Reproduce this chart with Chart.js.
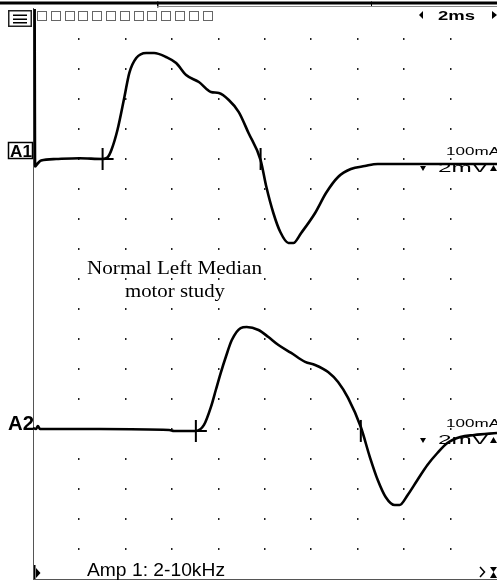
<!DOCTYPE html>
<html>
<head>
<meta charset="utf-8">
<style>
html, body { margin: 0; padding: 0; background: #fff; overflow: hidden; }
canvas { display: block; }
</style>
<script src="https://cdn.jsdelivr.net/npm/chart.js@4.4.0/dist/chart.umd.min.js"></script>
</head>
<body>
<canvas id="scope" width="497" height="583" style="width:497px;height:583px"></canvas>
<script>
// time in ms, amplitude in mV relative to each trace's baseline (2 ms/div, 2 mV/div)
const a1Time = [0.07, 0.09, 0.2, 0.35, 1.0, 2.0, 3.0, 3.21, 3.38, 3.64, 3.94, 4.15, 4.45, 4.88, 5.22,
    5.74, 6.17, 6.60, 7.15, 7.67, 8.01, 8.44, 8.87, 9.29, 9.81, 10.06, 10.36, 10.66, 11.01, 11.22, 11.56,
    12.16, 12.63, 13.15, 13.70, 14.30, 14.86, 17.43, 20];
const a1Mv = [10.6, -0.5, -0.3, -0.1, 0.0, 0.05, 0.0, 0.1, 0.6, 1.93, 4.13, 5.73, 6.73, 7.07, 7.07,
    6.8, 6.4, 5.6, 5.13, 4.47, 4.4, 3.93, 3.13, 1.73, -0.07, -1.87, -3.6, -4.87, -5.6, -5.6, -4.93,
    -3.6, -2.27, -1.2, -0.67, -0.47, -0.33, -0.33, -0.33];

const a2Time = [0, 0.13, 0.21, 0.3, 2.87, 5.87, 6.08, 7.02, 7.37, 7.67, 7.88, 8.09, 8.31, 8.57, 8.95, 9.21,
    9.72, 10.15, 10.58, 11.13, 11.73, 12.16, 12.72, 13.15, 13.58, 14.13, 14.52, 14.86, 15.20, 15.59, 15.80, 16.15,
    16.57, 17.0, 17.43, 17.86, 18.42, 19.02, 20];
const a2Mv = [0.07, 0, 0.2, 0, 0, -0.07, -0.13, -0.13, 0.27, 1.47, 2.6, 3.73, 4.8, 5.93, 6.73, 6.8,
    6.6, 6.13, 5.6, 5.07, 4.47, 4.27, 3.8, 3.13, 2.07, 0.13, -1.87, -3.4, -4.53, -5.07, -5.07, -4.4,
    -3.4, -2.4, -1.6, -0.93, -0.53, -0.4, -0.27];

// onset / peak cursors
const a1Markers = [3.0, 9.81];
const a2Markers = [7.02, 14.13];

const traceNames = ['A1', 'A2'];
const title = ['Normal Left Median', 'motor study'];
const sweepLabel = '2ms';
const gainLabel = '2mV';
const stimLabel = '100mA';
const filterLabel = 'Amp 1: 2-10kHz';

// screen layout: 19 divisions tall, A1 baseline at div 5, A2 at div 14
const A1_BASE = -10;
const A2_BASE = -28;
const Y_MIN = -38;

const toPoints = (ts, vs, base) => ts.map((t, i) => ({ x: t, y: base + vs[i] }));
const markerPoints = (ts, base) => ts.map(t => ({ x: t, y: base }));

const fitText = (ctx, text, x, y, font, width) => {
    ctx.font = font;
    const w = ctx.measureText(text).width;
    ctx.save();
    ctx.translate(x, y);
    ctx.scale(width / w, 1);
    ctx.fillText(text, 0, 0);
    ctx.restore();
};

const tri = (ctx, pts) => {
    ctx.beginPath();
    ctx.moveTo(pts[0], pts[1]);
    ctx.lineTo(pts[2], pts[3]);
    ctx.lineTo(pts[4], pts[5]);
    ctx.closePath();
    ctx.fill();
};

const scopeDecor = {
    id: 'scopeDecor',
    beforeDatasetsDraw(chart) {
        const ctx = chart.ctx;
        const xs = chart.scales.x, ys = chart.scales.y;
        ctx.save();
        // dot grid
        ctx.fillStyle = '#222';
        for (let t = 2; t < 20; t += 2) {
            for (let v = -2; v > Y_MIN; v -= 2) {
                const px = Math.round(xs.getPixelForValue(t));
                const py = Math.round(ys.getPixelForValue(v));
                ctx.fillRect(px - 1, py - 1, 1.5, 2);
            }
        }
        // frame
        const a = chart.chartArea;
        ctx.fillStyle = '#555';
        ctx.fillRect(a.left, 8, 1, a.bottom - 8 + 1);
        ctx.fillRect(a.left, a.bottom, a.right - a.left, 1);

        // title
        ctx.fillStyle = '#000';
        ctx.textAlign = 'left';
        ctx.textBaseline = 'alphabetic';
        fitText(ctx, title[0], 87, 274, '19px "Liberation Serif", "Times New Roman", serif', 175);
        fitText(ctx, title[1], 125, 297, '19px "Liberation Serif", "Times New Roman", serif', 100);

        // per-trace labels on the right
        [[A1_BASE, 0], [A2_BASE, 1]].forEach(([base, k]) => {
            const by = ys.getPixelForValue(base);
            const dy = k === 0 ? 0 : 2;
            fitText(ctx, stimLabel, 446, by - 2 + dy - 2, '11px "Liberation Sans", Arial, sans-serif', 54);
            fitText(ctx, gainLabel, 438, by + 13 + dy, '12px "Liberation Sans", Arial, sans-serif', 50);
            tri(ctx, [420, by + 7 + dy, 426, by + 7 + dy, 423, by + 12 + dy]);
            tri(ctx, [490, by + 12 + dy, 497, by + 12 + dy, 493.5, by + 6 + dy]);
        });

        // trace names
        const y1 = ys.getPixelForValue(A1_BASE);
        ctx.fillStyle = '#fff';
        ctx.fillRect(8, y1 - 17, 25, 17);
        ctx.strokeStyle = '#000';
        ctx.lineWidth = 1.5;
        ctx.strokeRect(8.5, y1 - 16.5, 24, 16);
        ctx.fillStyle = '#000';
        fitText(ctx, traceNames[0], 10, y1 - 2, 'bold 17px "Liberation Sans", Arial, sans-serif', 22);
        const y2 = ys.getPixelForValue(A2_BASE);
        fitText(ctx, traceNames[1], 8, y2 + 1, 'bold 20px "Liberation Sans", Arial, sans-serif', 26);

        // bottom status line
        fitText(ctx, filterLabel, 87, 576, '18px "Liberation Sans", Arial, sans-serif', 138);
        tri(ctx, [36, 568, 40.5, 573, 36, 578]);
        ctx.fillRect(34, 565, 1.5, 14);
        ctx.lineWidth = 1.5;
        ctx.beginPath();
        ctx.moveTo(480, 567); ctx.lineTo(484.5, 572); ctx.lineTo(480, 577);
        ctx.stroke();
        tri(ctx, [490, 567, 497, 567, 493.5, 572]);
        tri(ctx, [490, 578, 497, 578, 493.5, 572]);
        ctx.restore();
    },
    afterDraw(chart) {
        const ctx = chart.ctx;
        ctx.save();
        ctx.fillStyle = '#fff';
        ctx.fillRect(0, 0, 497, 8);
        // top bar
        ctx.fillStyle = '#000';
        ctx.fillRect(0, 1.5, 497, 3);
        ctx.fillRect(157, 1.5, 1.5, 6);
        ctx.fillRect(371, 1.5, 1, 5);
        ctx.fillStyle = '#888';
        ctx.fillRect(157, 6, 340, 1);

        // menu button
        ctx.fillStyle = '#fff';
        ctx.fillRect(8, 10, 24, 17);
        ctx.strokeStyle = '#222';
        ctx.lineWidth = 1.5;
        ctx.strokeRect(8.75, 10.75, 22.5, 15.5);
        ctx.fillStyle = '#000';
        [14.5, 18.5, 22].forEach(y => ctx.fillRect(13, y, 14, 1.5));

        // channel boxes
        ctx.strokeStyle = '#666';
        ctx.lineWidth = 1;
        for (let i = 0; i < 13; i++) {
            ctx.strokeRect(Math.round(37 + i * 13.8) + 0.5, 11.5, 9, 9);
        }

        // sweep speed
        ctx.fillStyle = '#000';
        tri(ctx, [419, 15, 423, 11, 423, 19]);
        fitText(ctx, sweepLabel, 438, 19.5, 'bold 13px "Liberation Sans", Arial, sans-serif', 37);
        tri(ctx, [497, 15, 492, 11, 492, 19]);
        ctx.restore();
    }
};

const markerStyle = {
    showLine: false,
    borderColor: '#000',
    backgroundColor: '#000',
    pointStyle: ['cross', 'line'],
    pointRotation: [0, 90],
    pointRadius: 11,
    pointBorderWidth: 2,
    pointHoverRadius: 11
};

const traceStyle = {
    borderColor: '#000',
    borderWidth: 2.6,
    pointRadius: 0,
    cubicInterpolationMode: 'monotone',
    fill: false
};

new Chart(document.getElementById('scope'), {
    type: 'line',
    data: {
        datasets: [
            { label: traceNames[0], data: toPoints(a1Time, a1Mv, A1_BASE), ...traceStyle },
            { label: traceNames[1], data: toPoints(a2Time, a2Mv, A2_BASE), ...traceStyle },
            { label: 'A1 cursors', data: markerPoints(a1Markers, A1_BASE), ...markerStyle },
            { label: 'A2 cursors', data: markerPoints(a2Markers, A2_BASE - 0.13), ...markerStyle }
        ]
    },
    options: {
        responsive: false,
        animation: false,
        // plot area runs a few pixels past the right edge of the screen
        layout: { autoPadding: false, padding: { left: 33, top: 9, right: -3, bottom: 4 } },
        plugins: { legend: { display: false }, tooltip: { enabled: false } },
        scales: {
            x: { type: 'linear', min: 0, max: 20, display: false },
            y: { type: 'linear', min: Y_MIN, max: 0, display: false }
        }
    },
    plugins: [scopeDecor]
});
</script>
</body>
</html>
